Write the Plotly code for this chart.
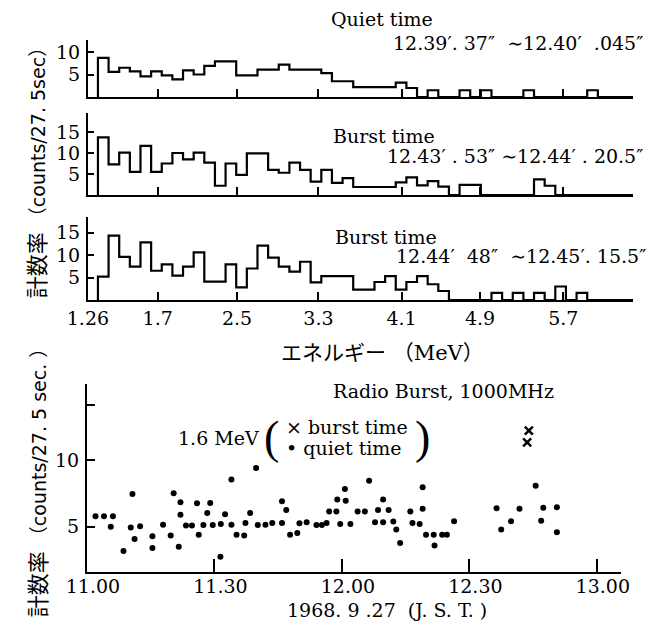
import plotly.graph_objects as go

# ---------------- data ----------------
# histogram channels (equal-width energy channels, index 0..50)
quiet_counts = [8.7, 5.6, 6.5, 5.7, 4.6, 5.7, 4.8, 3.9, 5.9, 5.0,
                6.9, 7.9, 7.9, 4.8, 4.8, 6.1, 6.1, 7.2, 6.1, 6.1,
                6.1, 5.3, 3.5, 3.5, 2.2, 2.2, 2.2, 2.2, 3.2, 2.0,
                0, 1.5, 0, 0, 1.5, 0, 1.5, 0, 0, 0,
                1.5, 0, 0, 0, 0, 0, 1.5, 0, 0, 0, 0]
burst1_counts = [13.7, 7.3, 10.1, 5.5, 11.7, 5.5, 7.5, 10.0, 8.5, 10.1,
                 7.7, 2.2, 7.5, 4.8, 9.9, 9.9, 6.0, 5.3, 7.7, 6.0,
                 3.2, 6.0, 2.9, 4.0, 1.9, 1.9, 1.9, 1.9, 3.0, 4.2,
                 2.3, 3.3, 2.0, 0, 2.4, 2.4, 0, 0, 0, 0,
                 0, 3.7, 2.2, 0, 0, 0, 0, 0, 0, 0, 0]
burst2_counts = [5.2, 14.3, 9.6, 7.4, 12.8, 6.5, 7.9, 5.4, 7.4, 10.6,
                 4.1, 4.1, 7.9, 2.8, 7.0, 12.1, 9.4, 7.4, 6.3, 8.5,
                 3.9, 5.3, 5.3, 5.3, 2.3, 2.3, 4.0, 5.3, 2.3, 4.0,
                 5.3, 3.5, 2.0, 0, 0, 0, 0, 1.6, 0, 1.6,
                 0, 1.6, 0, 3.0, 0, 1.6, 0, 0, 0, 0, 0]
energy_tick_labels = ["1.26", "1.7", "2.5", "3.3", "4.1", "4.9", "5.7"]
energy_tick_channels = [-0.94, 5.62, 13.08, 20.73, 28.55, 35.92, 43.75]

# time series (minutes after 11:00 JST), 1.6 MeV counts
quiet_min = [2.0, 4.0, 5.6, 6.1, 8.6, 10.3, 10.7, 11.2, 12.5, 15.4,
             15.4, 17.9, 19.7, 20.4, 21.6, 22.0, 22.0, 23.3, 24.7, 25.9,
             26.3, 27.4, 28.3, 29.0, 29.6, 31.4, 31.5, 32.5, 34.0, 34.0,
             35.2, 37.0, 37.3, 38.4, 39.8, 40.2, 42.0, 43.6, 45.9, 45.9,
             46.9, 47.8, 49.5, 50.0, 51.7, 54.0, 55.3, 56.4, 57.0, 58.7,
             58.9, 59.6, 60.7, 60.9, 62.0, 63.7, 65.4, 66.4, 67.8, 68.5,
             69.7, 69.7, 71.0, 72.1, 72.8, 73.7, 76.1, 76.6, 78.3, 79.0,
             79.0, 79.8, 81.6, 81.8, 83.6, 84.7, 86.4, 96.4, 97.5, 99.8,
             101.8, 105.6, 106.9, 107.4, 110.6, 110.6]
quiet_val = [5.78, 5.78, 5.0, 5.78, 3.18, 4.93, 7.45, 4.08, 5.03, 4.28,
             3.4, 5.15, 4.33, 7.5, 3.5, 6.83, 5.9, 5.08, 5.08, 6.75,
             4.4, 5.13, 6.03, 6.78, 5.13, 2.75, 5.2, 5.93, 8.53, 5.15,
             4.4, 4.33, 5.28, 6.03, 9.4, 5.13, 5.15, 5.28, 6.9, 5.28,
             6.25, 4.4, 4.53, 5.25, 5.33, 5.13, 5.13, 5.28, 6.13, 6.13,
             7.03, 5.2, 7.83, 6.95, 5.2, 6.13, 6.13, 8.45, 5.33, 6.25,
             7.03, 5.33, 6.25, 5.38, 4.78, 3.78, 6.13, 5.28, 5.2, 6.35,
             7.95, 4.4, 4.4, 3.58, 4.4, 4.4, 5.4, 6.38, 4.78, 5.4,
             6.35, 8.07, 5.45, 6.42, 6.45, 4.58]
burst_min = [103.6, 104.0]
burst_val = [11.33, 12.2]
time_tick_labels = ["11.00", "11.30", "12.00", "12.30", "13.00"]
time_tick_min = [0, 30, 60, 90, 120]

# ---------------- layout helpers ----------------
W, H = 664, 630
def px(x):
    return x / W
def py(y):
    return 1 - y / H

SERIF = "DejaVu Serif, Noto Sans CJK JP"
SANS = "DejaVu Sans, Noto Sans CJK JP"
BLACK = "black"

fig = go.Figure()

def step_xy(counts):
    n = len(counts)
    xs = [0] + list(range(n)) + [n]
    ys = [0] + list(counts) + [0]
    return xs, ys

for i, counts in enumerate([quiet_counts, burst1_counts, burst2_counts]):
    xs, ys = step_xy(counts)
    sfx = "" if i == 0 else str(i + 1)
    fig.add_trace(go.Scatter(x=xs, y=ys, mode="lines", line_shape="hv",
                             line=dict(color=BLACK, width=2.2),
                             xaxis="x" + sfx, yaxis="y" + sfx,
                             showlegend=False, hoverinfo="skip"))

fig.add_trace(go.Scatter(x=quiet_min, y=quiet_val, mode="markers",
                         marker=dict(color=BLACK, size=6, symbol="circle"),
                         xaxis="x4", yaxis="y4", showlegend=False))
fig.add_trace(go.Scatter(x=burst_min, y=burst_val, mode="markers",
                         marker=dict(color=BLACK, size=8, symbol="x-thin",
                                     line=dict(color=BLACK, width=2.5)),
                         xaxis="x4", yaxis="y4", showlegend=False))

tickfont = dict(family=SERIF, size=19, color=BLACK)

hist_x = dict(domain=[px(70), px(640)], range=[-0.94, 50.31],
              showline=True, linecolor=BLACK, linewidth=2,
              ticks="inside", ticklen=8, tickwidth=1.5, tickcolor=BLACK,
              tickvals=energy_tick_channels, ticktext=energy_tick_labels,
              showgrid=False, zeroline=False, tickfont=tickfont)
hist_y = dict(showline=True, linecolor=BLACK, linewidth=2,
              ticks="inside", ticklen=6, tickwidth=1.5, tickcolor=BLACK,
              showgrid=False, zeroline=False, tickfont=tickfont,
              ticklabelstandoff=2)

panels = [  # (baseline px, top px, px per unit, ticks)
    (97, 40, 4.5, [5, 10]),
    (195, 113, 4.2, [5, 10, 15]),
    (300, 217, 4.5, [5, 10, 15]),
]
layout_axes = {}
for i, (base, top, ppu, tv) in enumerate(panels):
    sfx = "" if i == 0 else str(i + 1)
    xa = dict(hist_x)
    xa["anchor"] = "y" + sfx
    xa["showticklabels"] = (i == 2)
    ya = dict(hist_y)
    ya["anchor"] = "x" + sfx
    ya["domain"] = [py(base), py(top)]
    ya["range"] = [0, (base - top) / ppu]
    ya["tickvals"] = tv
    layout_axes["xaxis" + sfx] = xa
    layout_axes["yaxis" + sfx] = ya

layout_axes["xaxis4"] = dict(domain=[px(69), px(627)], range=[0, 125.6],
                             anchor="y4", showline=True, linecolor=BLACK, linewidth=2,
                             ticks="inside", ticklen=13, tickwidth=1.5, tickcolor=BLACK,
                             tickvals=time_tick_min, ticktext=time_tick_labels,
                             showgrid=False, zeroline=False, tickfont=tickfont,
                             ticklabelshift=6, ticklabelstandoff=-4)
layout_axes["yaxis4"] = dict(domain=[py(572), py(384)], range=[1.6, 15.7],
                             anchor="x4", showline=True, linecolor=BLACK, linewidth=2,
                             ticks="inside", ticklen=8, tickwidth=1.5, tickcolor=BLACK,
                             tickvals=[5, 10, 14.1], ticktext=["5", "10", ""],
                             showgrid=False, zeroline=False, tickfont=tickfont,
                             ticklabelstandoff=2)

def ann(text, x, y, size=19, xanchor="center", family=SERIF, angle=0):
    return dict(text=text, x=px(x), y=py(y), xref="paper", yref="paper",
                xanchor=xanchor, yanchor="middle", showarrow=False,
                textangle=angle, font=dict(family=family, size=size, color=BLACK))

annotations = [
    ann("Quiet time", 378, 19),
    ann("12.39′. 37″  ∼12.40′  .045″", 652, 43, xanchor="right"),
    ann("Burst time", 380, 136),
    ann("12.43′ . 53″ ∼12.44′ . 20.5″", 652, 156, xanchor="right"),
    ann("Burst time", 382, 237),
    ann("12.44′  48″  ∼12.45′. 15.5″", 656, 256, xanchor="right"),
    ann("エネルギー （MeV）", 378, 353, size=21),
    ann("Radio Burst, 1000MHz", 442, 391),
    ann("1.6 MeV", 251, 438, xanchor="right"),
    ann("(", 262, 437, size=46, family="Liberation Serif"),
    ann("× burst time", 275, 427, xanchor="left"),
    ann("• quiet time", 275, 448, xanchor="left"),
    ann(")", 420, 437, size=46, family="Liberation Serif"),
    ann("1968. 9 .27  (J. S. T. )", 383, 610),
    ann('<span style="font-size:22px">計数率</span> （counts/27. 5sec）', 18, 168,
        family=SANS, angle=-90),
    ann('<span style="font-size:22px">計数率</span> （counts/27. 5 sec. ）', 18, 478,
        family=SANS, angle=-90),
]

fig.update_layout(width=W, height=H, margin=dict(l=0, r=0, t=0, b=0),
                  paper_bgcolor="white", plot_bgcolor="white",
                  showlegend=False, annotations=annotations, **layout_axes)

fig.write_html("out.html")
